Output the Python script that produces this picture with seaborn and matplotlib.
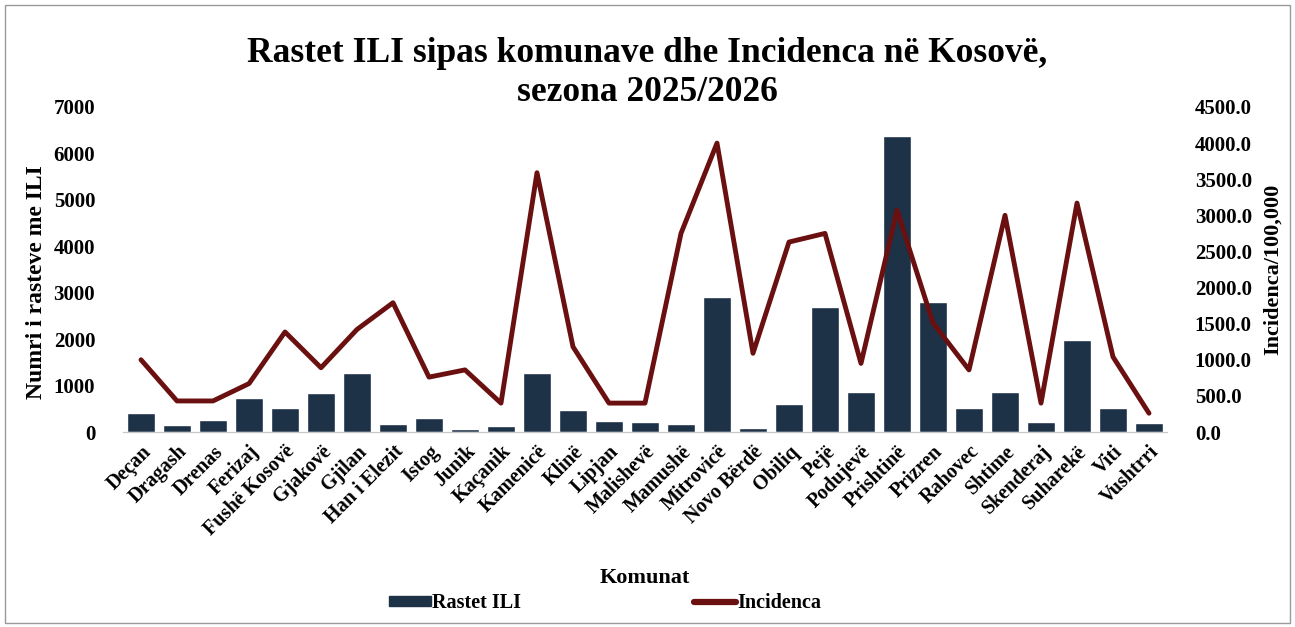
import matplotlib
matplotlib.use('Agg')
import matplotlib.pyplot as plt
import seaborn as sns
import pandas as pd
from matplotlib.patches import Rectangle
from matplotlib.lines import Line2D
from matplotlib.ticker import FormatStrFormatter

# Data
komunat = ['Deçan', 'Dragash', 'Drenas', 'Ferizaj', 'Fushë Kosovë', 'Gjakovë', 'Gjilan',
           'Han i Elezit', 'Istog', 'Junik', 'Kaçanik', 'Kamenicë', 'Klinë', 'Lipjan',
           'Malishevë', 'Mamushë', 'Mitrovicë', 'Novo Bërdë', 'Obiliq', 'Pejë', 'Podujevë',
           'Prishtinë', 'Prizren', 'Rahovec', 'Shtime', 'Skenderaj', 'Suharekë', 'Viti', 'Vushtrri']
rastet_ili = [410, 150, 260, 730, 520, 840, 1270, 180, 300, 60, 130, 1270, 470, 230,
              220, 170, 2910, 90, 600, 2690, 860, 6380, 2800, 510, 870, 210, 1980, 510, 200]
incidenca = [1000, 430, 430, 670, 1385, 890, 1420, 1790, 760, 860, 400, 3590, 1180, 400,
             400, 2750, 4000, 1090, 2630, 2750, 950, 3070, 1510, 860, 3000, 400, 3170, 1040, 260]

df = pd.DataFrame({'Komuna': komunat, 'Rastet ILI': rastet_ili, 'Incidenca': incidenca})

bar_color = '#1d3147'
line_color = '#6b1010'

sns.set_theme(style='white')
plt.rcParams['font.family'] = ['Liberation Serif', 'DejaVu Serif']
plt.rcParams['font.weight'] = 'bold'
plt.rcParams['text.color'] = 'black'
plt.rcParams['axes.labelcolor'] = 'black'
plt.rcParams['xtick.color'] = 'black'
plt.rcParams['ytick.color'] = 'black'

fig = plt.figure(figsize=(12.95, 6.27), dpi=100)
ax = fig.add_axes([123 / 1295, 1 - 432 / 627, (1167 - 123) / 1295, 325 / 627])

sns.barplot(data=df, x='Komuna', y='Rastet ILI', ax=ax, color=bar_color, width=0.78,
            saturation=1, order=komunat)
ax.set_ylim(0, 7000)
ax.set_yticks(range(0, 7001, 1000))
ax.set_xlabel('Komunat', fontsize=16, fontweight='bold', labelpad=20)
ax.set_ylabel('Numri i rasteve me ILI', fontsize=17, fontweight='bold', labelpad=8)
ax.yaxis.set_label_coords(-0.073, 0.46)
ax.tick_params(axis='y', labelsize=15, length=0, pad=20)
ax.tick_params(axis='x', labelsize=14.5, length=0, pad=7)
for lab in ax.get_yticklabels():
    lab.set_fontweight('bold')
ax.set_xticks(range(len(komunat)))
ax.set_xticklabels(komunat, rotation=45, ha='right', rotation_mode='anchor',
                   fontweight='bold')

ax2 = ax.twinx()
sns.lineplot(data=df, x='Komuna', y='Incidenca', ax=ax2, color=line_color,
             linewidth=3.5, sort=False)
ax2.set_ylim(0, 4500)
ax2.set_yticks(range(0, 4501, 500))
ax2.yaxis.set_major_formatter(FormatStrFormatter('%.1f'))
ax2.set_ylabel('Incidenca/100,000', fontsize=16, fontweight='bold', labelpad=8)
ax2.tick_params(axis='y', labelsize=15, length=0, pad=20)
for lab in ax2.get_yticklabels():
    lab.set_fontweight('bold')
ax.set_xlim(-0.5, len(komunat) - 0.5)

for a in (ax, ax2):
    for side in ('top', 'left', 'right'):
        a.spines[side].set_visible(False)
    a.spines['bottom'].set_color('#c8c8c8')
    a.spines['bottom'].set_linewidth(0.8)

fig.text(0.5, 1 - 73 / 627, 'Rastet ILI sipas komunave dhe Incidenca në Kosovë,\nsezona 2025/2026',
         ha='center', va='center', fontsize=25.5, fontweight='bold', linespacing=1.25)

handles = [Rectangle((0, 0), 1, 1, color=bar_color),
           Line2D([0], [0], color=line_color, linewidth=4.5)]
leg = fig.legend(handles, ['Rastet ILI', 'Incidenca'], loc='center', ncol=2,
                 bbox_to_anchor=(605 / 1295, 1 - 603 / 627), frameon=False, fontsize=14.5,
                 handlelength=2.1, handleheight=0.4, handletextpad=0.05, columnspacing=8.6)
for t in leg.get_texts():
    t.set_fontweight('bold')

fig.patches.append(Rectangle((5 / 1295, 4 / 627), 1285 / 1295, 618 / 627,
                             transform=fig.transFigure, fill=False,
                             edgecolor='#9a9a9a', linewidth=1))

fig.savefig('out.png', dpi=100)
